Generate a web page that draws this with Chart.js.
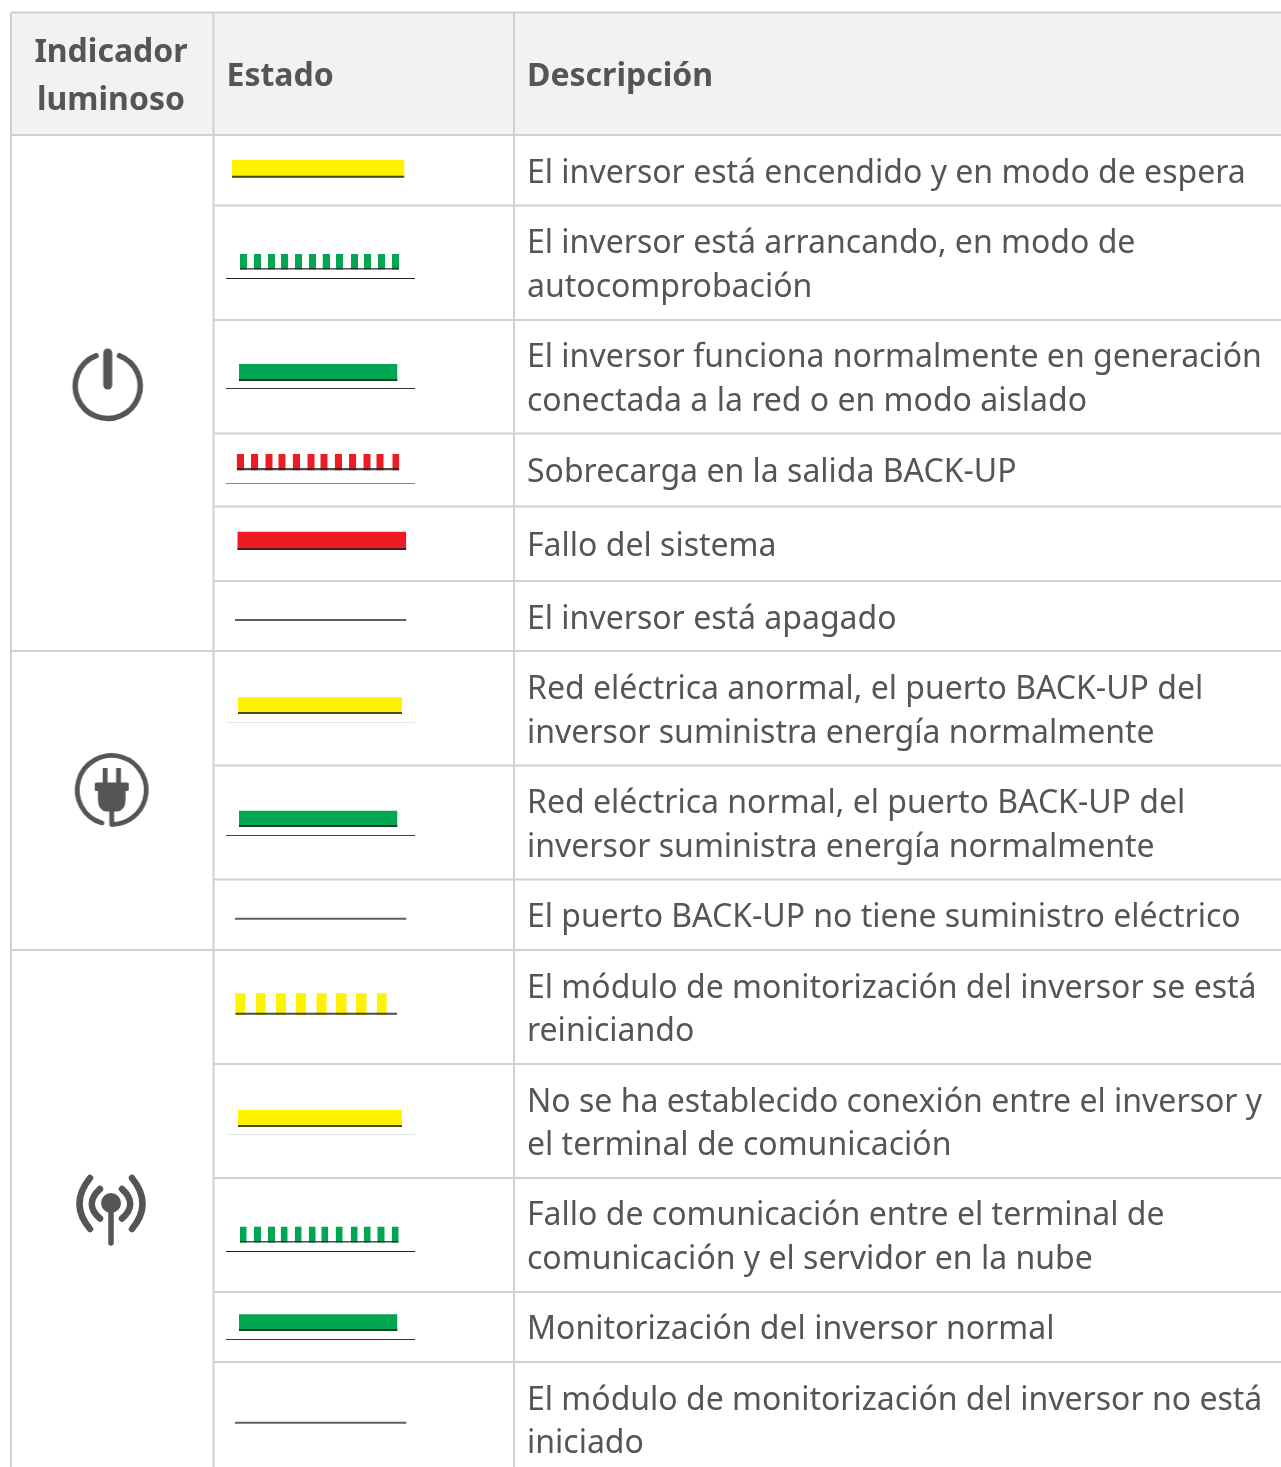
<!DOCTYPE html>
<html lang="es">
<head>
<meta charset="utf-8">
<title>Indicador luminoso</title>
<script src="https://cdn.jsdelivr.net/npm/chart.js@4/dist/chart.umd.min.js"></script>
<style>
    html, body { margin: 0; padding: 0; background: #fff; overflow: hidden; }
    canvas { display: block; }
</style>
</head>
<body>
<canvas id="tabla" width="1281" height="1467"></canvas>
<script>
// Texts
const headers = [['Indicador', 'luminoso'], ['Estado'], ['Descripción']];
const descriptions = [
    ['El inversor está encendido y en modo de espera'],
    ['El inversor está arrancando, en modo de', 'autocomprobación'],
    ['El inversor funciona normalmente en generación', 'conectada a la red o en modo aislado'],
    ['Sobrecarga en la salida BACK-UP'],
    ['Fallo del sistema'],
    ['El inversor está apagado'],
    ['Red eléctrica anormal, el puerto BACK-UP del', 'inversor suministra energía normalmente'],
    ['Red eléctrica normal, el puerto BACK-UP del', 'inversor suministra energía normalmente'],
    ['El puerto BACK-UP no tiene suministro eléctrico'],
    ['El módulo de monitorización del inversor se está', 'reiniciando'],
    ['No se ha establecido conexión entre el inversor y', 'el terminal de comunicación'],
    ['Fallo de comunicación entre el terminal de', 'comunicación y el servidor en la nube'],
    ['Monitorización del inversor normal'],
    ['El módulo de monitorización del inversor no está', 'iniciado']
];
// text lines of each row, on the y scale
const descriptionY = [[183], [253, 297], [367, 411], [482], [556], [629], [699, 743], [813, 857], [927], [998, 1041], [1112, 1155], [1225, 1269], [1339], [1410, 1453]];

// Table rules, on the scales (pixels of the page)
const columnEdges = [11, 213.5, 514];
const tableEnd = [1281, 1467];
const tableTop = 12.5;
const headerEnd = 135;
const groupEdges = [651, 950];
const rowEdges = [205.5, 320, 433.5, 506.5, 581, 765.5, 879.5, 1064, 1178, 1292, 1362];

// LED state of each row
const stateColor = ['yellow', 'green', 'green', 'red', 'red', 'off', 'yellow', 'green', 'off', 'yellow', 'yellow', 'green', 'green', 'off'];
const stateTop = [160, 254, 364, 454, 531.7, 619, 697.3, 810.7, 917.7, 993.3, 1110, 1226.7, 1314.3, 1421.7];
const stateBottom = [177.7, 269.5, 381, 470.3, 550, 621, 714, 827, 919.7, 1014.7, 1127, 1242.5, 1331, 1423.7];
const stateShade = [2, 1.5, 2, 2.2, 2, 0, 2, 2, 0, 2, 2, 1.5, 2, 0];
const stateSpans = [
    [[232, 404.5]],
    [[240, 247], [254, 261], [268, 275], [281, 288], [295, 302], [309, 316], [322.5, 330], [336, 343], [351, 358], [364, 371], [378, 385], [392, 399]],
    [[239, 397.5]],
    [[236.7, 244], [251, 258.3], [265.3, 272.7], [278.3, 285.7], [292.7, 300], [307.3, 314.7], [320.3, 327.7], [334.7, 342], [349, 356.3], [363.3, 370.7], [376.3, 383.7], [392.3, 399.3]],
    [[237.3, 406.3]],
    [[235, 406.5]],
    [[238, 402]],
    [[239, 397.5]],
    [[235, 406.5]],
    [[235.3, 245.7], [255.7, 265.7], [276, 286], [296, 306.3], [316.3, 326.7], [336, 346.7], [356, 366.7], [376.7, 386.7]],
    [[238, 402]],
    [[240, 246.7], [254, 261], [268, 275], [280.7, 287.7], [294.7, 301.7], [308.7, 315.7], [321.3, 328.3], [335.7, 342.7], [350.7, 357.7], [363.7, 370.7], [377.3, 384.7], [391.7, 398.7]],
    [[239, 397.5]],
    [[235, 406.5]]
];
const shadeEnd = [404.5, 399, 397.5, 399.3, 406.3, 0, 402, 397.5, 0, 397, 402, 398.7, 397.5, 0];
// thin line under some of the LED pictures
const underlineY = [null, 278.5, 388.5, 483.5, null, null, 722.5, 835.5, null, null, 1134.5, 1251.5, 1339.5, null];
const underlineColor = [null, '#222', '#333', '#888', null, null, '#e6e6e6', '#444', null, null, '#e6e6e6', '#222', '#333', null];
const underlineX = [226, 415];

// Icons of the first column
const iconX = [107.7, 111.7, 111];
const iconY = [386, 790, 1207];

const INK = '#555555';
const RULE = '#cfcfd5';
const HEADER_FILL = '#f2f2f2';
const LED = { yellow: '#fff200', green: '#00a651', red: '#ed1c24', off: '#5e5e5e' };

function band(x0, x1, y0, y1, color) {
    return {
        data: [{ x: x0, y: y0 }, { x: x1, y: y0 }],
        borderWidth: 0,
        borderColor: color,
        backgroundColor: color,
        fill: { value: y1 },
        pointRadius: 0
    };
}

function rule(x0, y0, x1, y1, color, width) {
    return {
        data: [{ x: x0, y: y0 }, { x: x1, y: y1 }],
        borderWidth: width,
        borderColor: color,
        fill: false,
        pointRadius: 0
    };
}

// Small canvases used as point styles
function iconCanvas(draw) {
    const c = document.createElement('canvas');
    c.width = 100;
    c.height = 100;
    const ctx = c.getContext('2d');
    ctx.translate(50, 50);
    ctx.strokeStyle = INK;
    ctx.fillStyle = INK;
    ctx.lineCap = 'round';
    draw(ctx);
    return c;
}

const powerIcon = iconCanvas(ctx => {
    ctx.lineWidth = 5.5;
    ctx.beginPath();
    ctx.arc(0, 0, 32.5, -Math.PI / 2 + 0.37, -Math.PI / 2 - 0.37);
    ctx.stroke();
    ctx.lineWidth = 9;
    ctx.beginPath();
    ctx.moveTo(0, -33);
    ctx.lineTo(0, -1);
    ctx.stroke();
});

const plugIcon = iconCanvas(ctx => {
    ctx.lineWidth = 4.8;
    ctx.beginPath();
    ctx.arc(0, 0, 34.5, Math.PI / 2 + 0.29, Math.PI / 2, false);
    ctx.stroke();
    ctx.beginPath();
    ctx.moveTo(0, 20);
    ctx.lineTo(0, 33);
    ctx.stroke();
    ctx.fillRect(-9, -22, 4.8, 16);
    ctx.fillRect(4.4, -22, 4.8, 16);
    ctx.beginPath();
    ctx.roundRect(-17, -7.5, 34, 8.5, 1.5);
    ctx.fill();
    ctx.beginPath();
    ctx.moveTo(-13.8, 0);
    ctx.lineTo(13.8, 0);
    ctx.lineTo(13.8, 10);
    ctx.quadraticCurveTo(13.5, 21, 5, 21.5);
    ctx.lineTo(-5, 21.5);
    ctx.quadraticCurveTo(-13.5, 21, -13.8, 10);
    ctx.closePath();
    ctx.fill();
});

const antennaIcon = iconCanvas(ctx => {
    ctx.beginPath();
    ctx.arc(0, -4, 10, 0, Math.PI * 2);
    ctx.fill();
    ctx.lineWidth = 5.5;
    ctx.beginPath();
    ctx.moveTo(0, -4);
    ctx.lineTo(0, 36);
    ctx.stroke();
    ctx.lineWidth = 6.5;
    [-1, 1].forEach(s => {
        ctx.beginPath();
        ctx.moveTo(s * 11, -18);
        ctx.quadraticCurveTo(s * 27.5, -3, s * 11, 11.5);
        ctx.stroke();
        ctx.beginPath();
        ctx.moveTo(s * 21, -29);
        ctx.quadraticCurveTo(s * 42, -3, s * 21, 22);
        ctx.stroke();
    });
});

// Build the datasets, listed from bottom to top
const layers = [];
layers.push(band(columnEdges[0], tableEnd[0], tableTop, headerEnd, HEADER_FILL));

stateColor.forEach((color, i) => {
    stateSpans[i].forEach(span => {
        layers.push(band(span[0], span[1], stateTop[i], stateBottom[i], LED[color]));
    });
    if (stateShade[i] > 0) {
        layers.push(band(stateSpans[i][0][0], shadeEnd[i], stateBottom[i] - stateShade[i], stateBottom[i], 'rgba(30,30,30,0.8)'));
    }
    if (underlineY[i] !== null) {
        layers.push(rule(underlineX[0], underlineY[i], underlineX[1], underlineY[i], underlineColor[i], 1));
    }
});

rowEdges.forEach(y => layers.push(rule(columnEdges[1], y, tableEnd[0], y, RULE, 2)));
[tableTop, headerEnd].concat(groupEdges).forEach(y => layers.push(rule(columnEdges[0], y, tableEnd[0], y, RULE, 2)));
columnEdges.forEach(x => layers.push(rule(x, tableTop, x, tableEnd[1], RULE, 2)));

[powerIcon, plugIcon, antennaIcon].forEach((icon, i) => {
    layers.push({
        data: [{ x: iconX[i], y: iconY[i] }],
        showLine: false,
        pointStyle: icon,
        pointRadius: 10
    });
});

// the first dataset is painted last
layers.reverse();

const textPlugin = {
    id: 'tableText',
    afterDatasetsDraw(chart) {
        const ctx = chart.ctx;
        const x = chart.scales.x;
        const y = chart.scales.y;
        ctx.save();
        ctx.fillStyle = INK;
        ctx.textBaseline = 'alphabetic';

        ctx.font = 'bold 32px "Noto Sans"';
        ctx.textAlign = 'center';
        ctx.fillText(headers[0][0], x.getPixelForValue(111), y.getPixelForValue(62));
        ctx.fillText(headers[0][1], x.getPixelForValue(111), y.getPixelForValue(110));
        ctx.textAlign = 'left';
        ctx.fillText(headers[1][0], x.getPixelForValue(226.5), y.getPixelForValue(86));
        ctx.fillText(headers[2][0], x.getPixelForValue(527), y.getPixelForValue(86));

        ctx.font = '32px "Noto Sans"';
        descriptions.forEach((lines, i) => {
            lines.forEach((line, n) => {
                ctx.fillText(line, x.getPixelForValue(527), y.getPixelForValue(descriptionY[i][n]));
            });
        });
        ctx.restore();
    }
};

new Chart(document.getElementById('tabla').getContext('2d'), {
    type: 'line',
    data: { datasets: layers },
    options: {
        responsive: false,
        animation: false,
        clip: false,
        layout: { padding: 0, autoPadding: false },
        plugins: {
            legend: { display: false },
            title: { display: false },
            tooltip: { enabled: false }
        },
        scales: {
            x: { type: 'linear', display: false, min: 0, max: 1281 },
            y: { type: 'linear', display: false, min: 0, max: 1467, reverse: true }
        }
    },
    plugins: [textPlugin]
});
</script>
</body>
</html>
